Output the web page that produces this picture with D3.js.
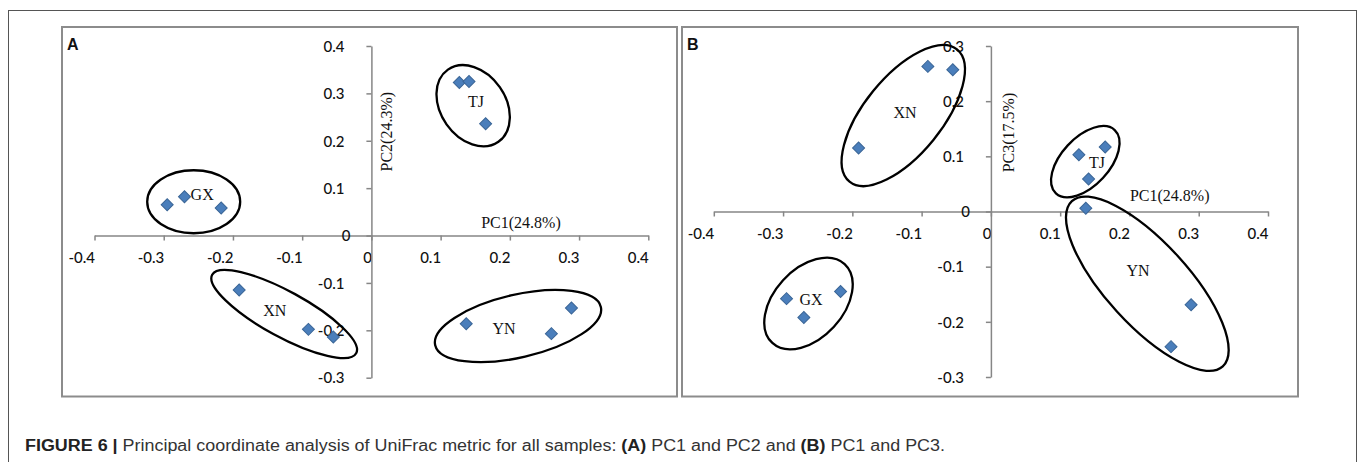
<!DOCTYPE html>
<html><head><meta charset="utf-8">
<script src="https://cdn.jsdelivr.net/npm/d3@7"></script>
<style>body{margin:0;background:#fff}svg{display:block}</style>
</head><body><svg id="c" width="1358" height="462"></svg>
<script>
// ---- data ----
const groups = ["GX","GX","GX","TJ","TJ","TJ","XN","XN","XN","YN","YN","YN"];
const pc1 = [-0.295,-0.270,-0.217, 0.127,0.141,0.165, -0.191,-0.091,-0.055, 0.137,0.260,0.289];
const pc2 = [0.065,0.082,0.058, 0.323,0.325,0.236, -0.115,-0.198,-0.214, -0.186,-0.207,-0.153];
const pc3 = [-0.158,-0.192,-0.145, 0.103,0.059,0.117, 0.115,0.263,0.257, 0.006,-0.245,-0.169];
const xTicks = [-0.4,-0.3,-0.2,-0.1,0,0.1,0.2,0.3,0.4];
const yTicksA = [-0.3,-0.2,-0.1,0,0.1,0.2,0.3,0.4];
const yTicksB = [-0.3,-0.2,-0.1,0,0.1,0.2,0.3];
const xTitle = "PC1(24.8%)";
const yTitleA = "PC2(24.3%)";
const yTitleB = "PC3(17.5%)";
const groupNames = ["GX","TJ","XN","YN"];
// group label anchors (data units)
const labelA = [[-0.2445,0.0876],[0.151,0.2823],[-0.1397,-0.1572],[0.1915,-0.1952]];
const labelB = [[-0.2597,-0.1595],[0.1532,0.0888],[-0.124,0.1798],[0.2124,-0.1075]];
// ellipse centres (data units)
const ellCentreA = [[-0.2567,0.0713],[0.147,0.274],[-0.126,-0.1657],[0.2118,-0.191]];
const ellCentreB = [[-0.2633,-0.1668],[0.1363,0.0903],[-0.1265,0.174],[0.2258,-0.131]];
const captionBold = "FIGURE 6 |";
const captionText = " Principal coordinate analysis of UniFrac metric for all samples: ";

// ---- layout ----
const svg = d3.select("#c");
svg.append("rect").attr("x",8.5).attr("y",10.5).attr("width",1348).attr("height",470)
  .attr("fill","none").attr("stroke","#555").attr("stroke-width",1);

const panels = [
  {letter:"A", frame:[62,27,677,396.5], xr:[94.5,648.3], yd:[-0.3,0.4], yr:[377.7,46],
   yv:pc2, yTicks:yTicksA, yTitle:yTitleA, labels:labelA, ells:ellCentreA,
   ellGeom:[[46.5,31.5,0],[44,32.5,55],[82,22.7,28.6],[85,31.4,-13]],
   xTitleX:521, xTitleDy:-7.5, yTitleDx:21, yTitleY:131.7},
  {letter:"B", frame:[682,27,1298,396.5], xr:[713.8,1268], yd:[-0.3,0.3], yr:[377,46],
   yv:pc3, yTicks:yTicksB, yTitle:yTitleB, labels:labelB, ells:ellCentreB,
   ellGeom:[[53.5,34.5,-47.5],[43.2,24,-47.1],[85.2,38.8,-50.9],[111.9,41.2,47.6]],
   xTitleX:1169.7, xTitleDy:-10.5, yTitleDx:23, yTitleY:132.5}
];

const fmt = d => d === 0 ? "0" : d.toFixed(1);
const tickFont = "Lato, 'Open Sans', sans-serif";
const serif = "'Liberation Serif', 'DejaVu Serif', serif";

panels.forEach(p => {
  const g = svg.append("g");
  const [l,t,r,b] = p.frame;
  g.append("rect").attr("x",l).attr("y",t).attr("width",r-l).attr("height",b-t)
    .attr("fill","none").attr("stroke","#8c8c8c").attr("stroke-width",2);
  g.append("text").attr("x",l+5).attr("y",49.5).text(p.letter)
    .attr("font-family","'Liberation Sans', Arial, sans-serif").attr("font-weight","bold")
    .attr("font-size",16).attr("fill","#111");

  const x = d3.scaleLinear().domain([-0.4,0.4]).range(p.xr);
  const y = d3.scaleLinear().domain(p.yd).range(p.yr);

  const xa = g.append("g").attr("transform",`translate(0,${y(0)})`)
    .call(d3.axisBottom(x).tickValues(xTicks).tickFormat(fmt).tickSize(5).tickSizeOuter(0));
  const ya = g.append("g").attr("transform",`translate(${x(0)},0)`)
    .call(d3.axisLeft(y).tickValues(p.yTicks).tickFormat(fmt).tickSize(5).tickSizeOuter(0));
  [xa,ya].forEach(a => {
    a.select(".domain").attr("stroke","#868686").attr("stroke-width",1.5);
    a.selectAll(".tick line").attr("stroke","#868686").attr("stroke-width",1.5);
    a.selectAll(".tick text").attr("font-family",tickFont).attr("font-size",15)
      .attr("font-weight",500).attr("fill","#111");
  });
  xa.selectAll(".tick text").attr("text-anchor","end").attr("x",0).attr("y",27).attr("dy",0);
  ya.selectAll(".tick text").attr("text-anchor","end").attr("x",d => d===0 ? -21 : -27).attr("dy","0.35em");

  // axis titles
  g.append("text").attr("x",p.xTitleX).attr("y",y(0)+p.xTitleDy).attr("text-anchor","middle")
    .attr("font-family",serif).attr("font-size",16).attr("fill","#111").text(xTitle);
  g.append("text").attr("transform",`translate(${x(0)+p.yTitleDx},${p.yTitleY}) rotate(-90)`)
    .attr("text-anchor","middle").attr("font-family",serif).attr("font-size",16).attr("fill","#111").text(p.yTitle);

  // ellipses
  const ellData = groupNames.map((n,i) => ({n, c:p.ells[i], geo:p.ellGeom[i]}));
  g.selectAll("ellipse.grp").data(ellData).join("ellipse").attr("class","grp")
    .attr("transform",d => `translate(${x(d.c[0])},${y(d.c[1])}) rotate(${d.geo[2]})`)
    .attr("rx",d => d.geo[0]).attr("ry",d => d.geo[1])
    .attr("fill","none").attr("stroke","#000").attr("stroke-width",2.3);

  // points
  const pts = groups.map((gr,i) => ({gr, px:pc1[i], py:p.yv[i]}));
  g.selectAll("path.pt").data(pts).join("path").attr("class","pt")
    .attr("d", d3.symbol(d3.symbolSquare, 72))
    .attr("transform",d => `translate(${x(d.px)},${y(d.py)}) rotate(45)`)
    .attr("fill","#4a7ebb").attr("stroke","#3a6596").attr("stroke-width",1);

  // group labels
  g.selectAll("text.gl").data(groupNames).join("text").attr("class","gl")
    .attr("x",(d,i) => x(p.labels[i][0])).attr("y",(d,i) => y(p.labels[i][1]))
    .attr("dy","0.35em").attr("text-anchor","middle")
    .attr("font-family",serif).attr("font-size",16).attr("fill","#111").text(d => d);
});

// caption
const cap = svg.append("text").attr("x",25).attr("y",450.5)
  .attr("font-family","'Liberation Sans', Arial, sans-serif")
  .attr("font-size",16).attr("fill","#333")
  .attr("textLength",920).attr("lengthAdjust","spacingAndGlyphs");
cap.append("tspan").attr("font-weight","bold").attr("fill","#222").text(captionBold);
cap.append("tspan").text(captionText);
cap.append("tspan").attr("font-weight","bold").attr("fill","#222").text("(A)");
cap.append("tspan").text(" PC1 and PC2 and ");
cap.append("tspan").attr("font-weight","bold").attr("fill","#222").text("(B)");
cap.append("tspan").text(" PC1 and PC3.");
</script></body></html>
